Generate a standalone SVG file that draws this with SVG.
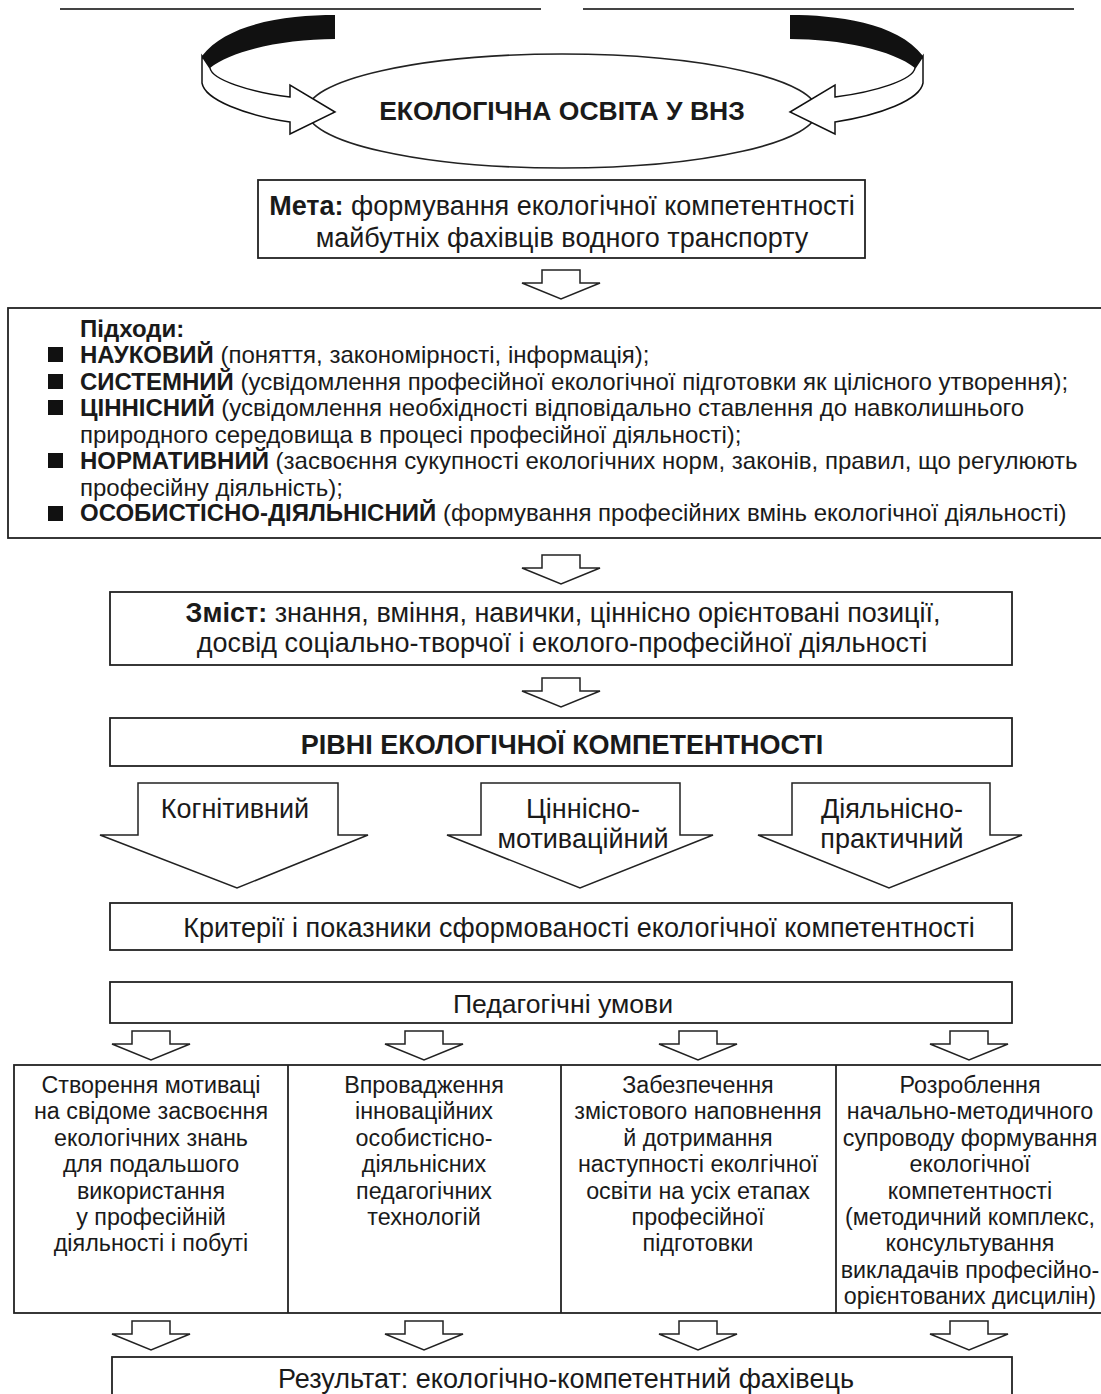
<svg xmlns="http://www.w3.org/2000/svg" width="1101" height="1394" viewBox="0 0 1101 1394">
<style>
  text { font-family: "Liberation Sans", Arial, sans-serif; fill: #1a1a1a; }
  .box { fill: #fff; stroke: #222; stroke-width: 1.8; }
  .b { font-weight: bold; }
  .c { text-anchor: middle; }
  .arr { fill: #fff; stroke: #222; stroke-width: 1.5; stroke-linejoin: miter; }
  .rib { fill: #fff; stroke: #111; stroke-width: 1.5; }
  .blk { fill: #111; }
  .rule { stroke: #444; stroke-width: 2; }
  .col { font-size: 23.3px; }
</style>
<defs>
  <path id="sa" d="M-19,0 H19 V13 H39 L0,29 L-39,13 H-19 Z"/>
</defs>
<rect width="1101" height="1394" fill="#fff"/>
<line class="rule" x1="60" y1="9" x2="541" y2="9"/>
<line class="rule" x1="583" y1="9" x2="1074" y2="9"/>

<g id="title">
  <ellipse cx="562" cy="111" rx="255" ry="57" fill="#fff" stroke="#222" stroke-width="1.6"/>
  <g id="ribbon-left">
    <path class="blk" d="M335,15 C290,15 228,22 202,56 L210,68 C232,50 285,39 335,39 Z"/>
    <path class="rib" d="M202,56 L210,68 C212,80 250,92 290,97 L290,85 L335,112 L290,134 L290,122 C245,115 205,100 202,83 Z"/>
  </g>
  <g id="ribbon-right" transform="translate(1125,0) scale(-1,1)">
    <path class="blk" d="M335,15 C290,15 228,22 202,56 L210,68 C232,50 285,39 335,39 Z"/>
    <path class="rib" d="M202,56 L210,68 C212,80 250,92 290,97 L290,85 L335,112 L290,134 L290,122 C245,115 205,100 202,83 Z"/>
  </g>
  <text class="b c" x="562" y="120" font-size="26.5">ЕКОЛОГІЧНА ОСВІТА У ВНЗ</text>
</g>

<g id="goal">
  <rect class="box" x="258" y="180" width="607" height="78"/>
  <text class="c" x="562" y="215" font-size="27"><tspan class="b">Мета:</tspan> формування екологічної компетентності</text>
  <text class="c" x="562" y="247" font-size="27">майбутніх фахівців водного транспорту</text>
</g>

<g id="approaches">
  <rect class="box" x="8" y="308" width="1100" height="230"/>
  <text class="b" x="80" y="337" font-size="24">Підходи:</text>
  <g fill="#111">
    <rect x="48" y="347" width="15" height="15"/>
    <rect x="48" y="374" width="15" height="15"/>
    <rect x="48" y="400" width="15" height="15"/>
    <rect x="48" y="453" width="15" height="15"/>
    <rect x="48" y="506" width="15" height="15"/>
  </g>
  <text x="80" y="363" font-size="24"><tspan class="b">НАУКОВИЙ</tspan> (поняття, закономірності, інформація);</text>
  <text x="80" y="390" font-size="24"><tspan class="b">СИСТЕМНИЙ</tspan> (усвідомлення професійної екологічної підготовки як цілісного утворення);</text>
  <text x="80" y="416" font-size="24"><tspan class="b">ЦІННІСНИЙ</tspan> (усвідомлення необхідності відповідально ставлення до навколишнього</text>
  <text x="80" y="443" font-size="24">природного середовища в процесі професійної діяльності);</text>
  <text x="80" y="469" font-size="24"><tspan class="b">НОРМАТИВНИЙ</tspan> (засвоєння сукупності екологічних норм, законів, правил, що регулюють</text>
  <text x="80" y="496" font-size="24">професійну діяльність);</text>
  <text x="80" y="521" font-size="24"><tspan class="b">ОСОБИСТІСНО-ДІЯЛЬНІСНИЙ</tspan> (формування професійних вмінь екологічної діяльності)</text>
</g>

<g id="content">
  <rect class="box" x="110" y="592" width="902" height="73"/>
  <text class="c" x="563" y="622" font-size="27"><tspan class="b">Зміст:</tspan> знання, вміння, навички, ціннісно орієнтовані позиції,</text>
  <text class="c" x="562" y="652" font-size="27">досвід соціально-творчої і еколого-професійної діяльності</text>
</g>

<g id="levels">
  <rect class="box" x="110" y="718" width="902" height="48"/>
  <text class="b c" x="562" y="754" font-size="27">РІВНІ ЕКОЛОГІЧНОЇ КОМПЕТЕНТНОСТІ</text>
</g>

<g id="level-cognitive">
  <path class="arr" d="M138,783 H338 V835 H368 L237,888 L100,835 H138 Z"/>
  <text class="c" x="235" y="818" font-size="27">Когнітивний</text>
</g>
<g id="level-value">
  <path class="arr" d="M481,783 H680 V835 H713 L580,888 L447,835 H481 Z"/>
  <text class="c" x="583" y="818" font-size="27">Ціннісно-</text>
  <text class="c" x="583" y="848" font-size="27">мотиваційний</text>
</g>
<g id="level-activity">
  <path class="arr" d="M792,783 H990 V835 H1022 L889,888 L758,835 H792 Z"/>
  <text class="c" x="892" y="818" font-size="27">Діяльнісно-</text>
  <text class="c" x="892" y="848" font-size="27">практичний</text>
</g>

<g id="criteria">
  <rect class="box" x="110" y="903" width="902" height="47"/>
  <text class="c" x="579" y="937" font-size="27">Критерії і показники сформованості екологічної компетентності</text>
</g>

<g id="conditions">
  <rect class="box" x="110" y="982" width="902" height="41"/>
  <text class="c" x="563" y="1013" font-size="26.6">Педагогічні умови</text>
</g>

<g id="columns">
  <rect class="box" x="14" y="1065" width="1100" height="248"/>
  <line x1="288" y1="1065" x2="288" y2="1313" stroke="#222" stroke-width="1.8"/>
  <line x1="561" y1="1065" x2="561" y2="1313" stroke="#222" stroke-width="1.8"/>
  <line x1="836" y1="1065" x2="836" y2="1313" stroke="#222" stroke-width="1.8"/>
</g>
<g id="cond-1" class="col">
  <text class="c" x="151" y="1093">Створення мотиваці</text>
  <text class="c" x="151" y="1119">на свідоме засвоєння</text>
  <text class="c" x="151" y="1146">екологічних знань</text>
  <text class="c" x="151" y="1172">для подальшого</text>
  <text class="c" x="151" y="1199">використання</text>
  <text class="c" x="151" y="1225">у професійній</text>
  <text class="c" x="151" y="1251">діяльності і побуті</text>
</g>
<g id="cond-2" class="col">
  <text class="c" x="424" y="1093">Впровадження</text>
  <text class="c" x="424" y="1119">інноваційних</text>
  <text class="c" x="424" y="1146">особистісно-</text>
  <text class="c" x="424" y="1172">діяльнісних</text>
  <text class="c" x="424" y="1199">педагогічних</text>
  <text class="c" x="424" y="1225">технологій</text>
</g>
<g id="cond-3" class="col">
  <text class="c" x="698" y="1093">Забезпечення</text>
  <text class="c" x="698" y="1119">змістового наповнення</text>
  <text class="c" x="698" y="1146">й дотримання</text>
  <text class="c" x="698" y="1172">наступності еколгічної</text>
  <text class="c" x="698" y="1199">освіти на усіх етапах</text>
  <text class="c" x="698" y="1225">професійної</text>
  <text class="c" x="698" y="1251">підготовки</text>
</g>
<g id="cond-4" class="col">
  <text class="c" x="970" y="1093">Розроблення</text>
  <text class="c" x="970" y="1119">начально-методичного</text>
  <text class="c" x="970" y="1146">супроводу формування</text>
  <text class="c" x="970" y="1172">екологічної</text>
  <text class="c" x="970" y="1199">компетентності</text>
  <text class="c" x="970" y="1225">(методичний комплекс,</text>
  <text class="c" x="970" y="1251">консультування</text>
  <text class="c" x="970" y="1278">викладачів професійно-</text>
  <text class="c" x="970" y="1304">орієнтованих дисцилін)</text>
</g>

<g id="result">
  <rect class="box" x="112" y="1357" width="900" height="60"/>
  <text class="c" x="566" y="1388" font-size="27">Результат: екологічно-компетентний фахівець</text>
</g>

<g id="connectors">
  <use href="#sa" class="arr" x="561" y="270"/>
  <use href="#sa" class="arr" x="561" y="555"/>
  <use href="#sa" class="arr" x="561" y="678"/>
  <use href="#sa" class="arr" x="151" y="1031"/>
  <use href="#sa" class="arr" x="424" y="1031"/>
  <use href="#sa" class="arr" x="698" y="1031"/>
  <use href="#sa" class="arr" x="969" y="1031"/>
  <use href="#sa" class="arr" x="151" y="1321"/>
  <use href="#sa" class="arr" x="424" y="1321"/>
  <use href="#sa" class="arr" x="698" y="1321"/>
  <use href="#sa" class="arr" x="969" y="1321"/>
</g>
</svg>
